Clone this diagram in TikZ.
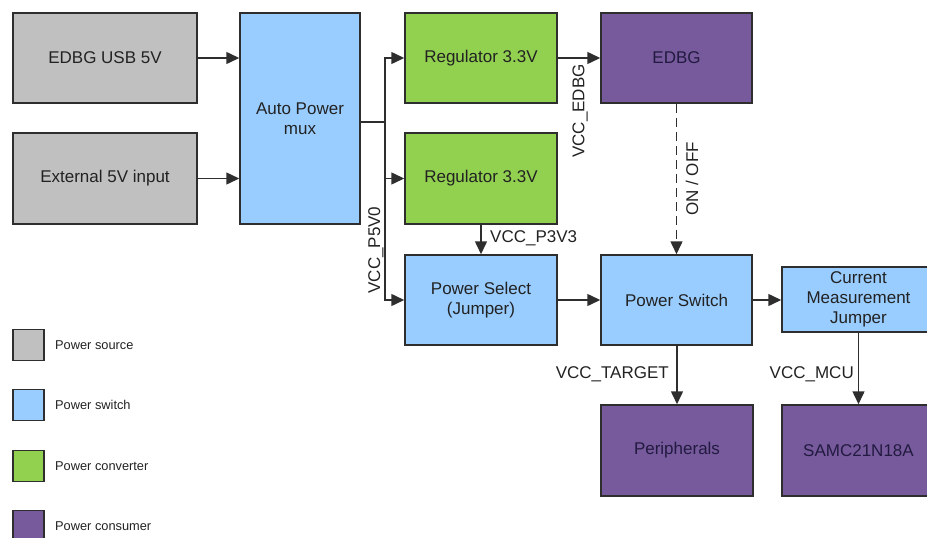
\documentclass[tikz,border=0pt]{standalone}
\usepackage{fontspec}
\setmainfont{Liberation Sans}
\usetikzlibrary{arrows.meta}
\definecolor{srcgray}{HTML}{C0C0C0}
\definecolor{swblue}{HTML}{99CCFF}
\definecolor{convgreen}{HTML}{92D050}
\definecolor{conspurple}{HTML}{765A9C}
\definecolor{edge}{HTML}{2E2E2E}
\definecolor{txt}{HTML}{222222}
\definecolor{ptxt}{HTML}{221A40}
\begin{document}
\begin{tikzpicture}[x=1pt,y=-1pt,
  box/.style={draw=edge,line width=1.5pt,inner sep=0pt,align=center,text=txt,
    font=\fontsize{17}{20}\selectfont},
  src/.style={box,fill=srcgray},
  sw/.style={box,fill=swblue},
  conv/.style={box,fill=convgreen},
  cons/.style={box,fill=conspurple,text=ptxt},
  arr/.style={draw=edge,line width=1.5pt,-{Triangle[length=13pt,width=12pt]}},
  ln/.style={draw=edge,line width=1.5pt},
  lbl/.style={inner sep=0pt,text=txt,font=\fontsize{17}{20}\selectfont},
  legbox/.style={draw=edge,line width=1.5pt,minimum width=31pt,minimum height=31pt,inner sep=0pt},
  legtxt/.style={inner sep=0pt,anchor=west,text=txt,font=\fontsize{12.8}{15}\selectfont}
]
\useasboundingbox (0,0) rectangle (927,538);
% boxes
\node[src,minimum width=184pt,minimum height=90pt] (usb) at (105,58) {EDBG USB 5V};
\node[src,minimum width=184pt,minimum height=91pt] (ext) at (105,178.5) {External 5V input};
\node[sw,minimum width=120pt,minimum height=211pt] (mux) at (300,118.5) {Auto Power\\mux};
\node[conv,minimum width=152pt,minimum height=90pt] (reg1) at (481,58) {Regulator 3.3V};
\node[conv,minimum width=152pt,minimum height=91pt] (reg2) at (481,178.5) {Regulator 3.3V};
\node[cons,minimum width=151pt,minimum height=90pt] (edbg) at (676.5,58) {EDBG};
\node[sw,minimum width=152pt,minimum height=90pt] (psel) at (481,300) {Power Select\\(Jumper)};
\node[sw,minimum width=151pt,minimum height=90pt] (psw) at (676.5,300) {Power Switch};
\node[sw,minimum width=153pt,minimum height=65pt] (cmj) at (858.5,299.5) {Current\\Measurement\\Jumper};
\node[cons,minimum width=152pt,minimum height=91pt] (periph) at (677,450.5) {Peripherals};
\node[cons,minimum width=153pt,minimum height=91pt] (sam) at (858.5,450.5) {SAMC21N18A};
% connectors
\draw[arr] (usb.east) -- (usb.east -| mux.west);
\draw[arr] (ext.east) -- (ext.east -| mux.west);
\coordinate (bus) at (385,122);
\draw[ln] (bus -| mux.east) -- (bus);
\draw[arr] (bus) |- (reg1.west);
\draw[arr] (bus) |- (reg2.west);
\draw[arr] (bus) |- (psel.west);
\draw[arr] (reg1.east) -- (edbg.west);
\draw[arr] (reg2.south) -- (psel.north);
\draw[arr] (psel.east) -- (psw.west);
\draw[arr,dash pattern=on 9pt off 5pt] (edbg.south) -- (psw.north);
\draw[arr] (psw.east) -- (psw.east -| cmj.west);
\draw[arr] (psw.south -| periph.north) -- (periph.north);
\draw[arr] (cmj.south) -- (sam.north);
% labels
\node[lbl,rotate=90] (lvedbg) at (580,111) {VCC\_EDBG};
\node[lbl,rotate=90] (lonoff) at (692,179) {ON / OFF};
\node[lbl,rotate=90] (lp5) at (376,250) {VCC\_P5V0};
\node[lbl,anchor=west] (lp3) at (490,238) {VCC\_P3V3};
\node[lbl,anchor=east] (ltgt) at (669,374) {VCC\_TARGET};
\node[lbl,anchor=east] (lmcu) at (854,374) {VCC\_MCU};
% legend
\node[legbox,fill=srcgray] (lg1) at (28.5,345) {};
\node[legbox,fill=swblue] (lg2) at (28.5,405) {};
\node[legbox,fill=convgreen] (lg3) at (28.5,466) {};
\node[legbox,fill=conspurple] (lg4) at (28.5,526) {};
\node[legtxt] (lt1) at (55,345) {Power source};
\node[legtxt] (lt2) at (55,405) {Power switch};
\node[legtxt] (lt3) at (55,466) {Power converter};
\node[legtxt] (lt4) at (55,526) {Power consumer};
\end{tikzpicture}
\end{document}
